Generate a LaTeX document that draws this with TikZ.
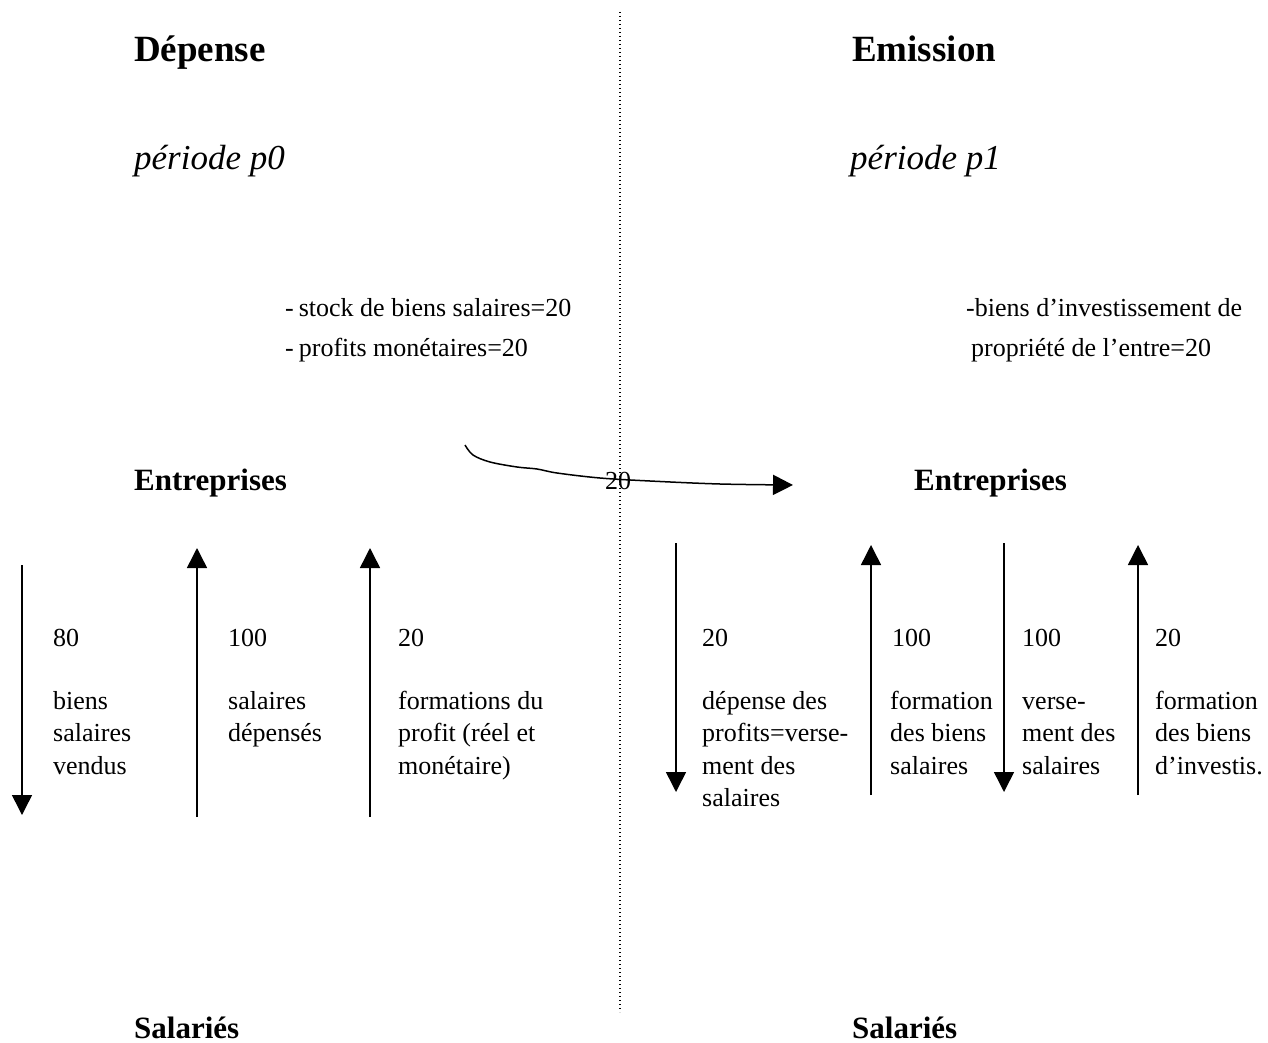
\documentclass[tikz,border=0pt]{standalone}
\usepackage{fontspec}
\setmainfont{Liberation Serif}
\usetikzlibrary{arrows.meta}
\begin{document}
\begin{tikzpicture}[x=1pt,y=-1pt,
  title/.style={anchor=base west,inner sep=0pt,font=\fontsize{37}{40}\selectfont\bfseries},
  period/.style={anchor=base west,inner sep=0pt,font=\fontsize{35}{40}\selectfont\itshape},
  actor/.style={anchor=base west,inner sep=0pt,font=\fontsize{31}{36}\selectfont\bfseries},
  body/.style={anchor=base west,inner sep=0pt,font=\fontsize{26}{40}\selectfont},
  col/.style={anchor=north west,inner sep=0pt,align=left,font=\fontsize{26}{32.5}\selectfont},
  flow/.style={line width=1.5pt,-{Triangle[length=20pt,width=20pt]}},
  sep/.style={line width=1.3pt,dash pattern=on 1.3pt off 2.7pt}
]
\useasboundingbox (0,0) rectangle (1268,1043);
\newcommand{\topstrut}{\rule{0pt}{20pt}}
% separator
\coordinate (septop) at (620,12);
\coordinate (sepbot) at (620,1012);
\draw[sep] (septop) -- (sepbot);

% titles
\node[title] (dep) at (134,62) {Dépense};
\node[title] (emi) at (852,62) {Emission};
\node[period] (p0) at (134,170) {période p0};
\node[period] (p1) at (850,170) {période p1};

\node[body] (t1) at (285,316) {-\kern5pt stock de biens salaires=20};
\node[body] (t2) at (285,356) {-\kern5pt profits monétaires=20};
\node[body] (t3) at (966,316) {-biens d’investissement de};
\node[body] (t4) at (971,356) {propriété de l’entre=20};

\node[actor] (entL) at (134,490) {Entreprises};
\node[actor] (entR) at (914,490) {Entreprises};
\node[actor] (salL) at (134,1038) {Salariés};
\node[actor] (salR) at (852,1038) {Salariés};

% curved arrow
\coordinate (cs) at (465,445);
\coordinate (ce) at (793,485);
\draw[flow] plot[smooth,tension=0.55] coordinates {(cs) (473,455) (490,462) (517,467) (537,469) (557,473) (600,478) (650,481) (720,484) (ce)};
\node[inner sep=0pt,font=\fontsize{26}{30}\selectfont] (c20) at (618,481) {20};

% left vertical arrows
\coordinate (a1t) at (22,565);  \coordinate (a1b) at (22,815);
\coordinate (a2t) at (197,548); \coordinate (a2b) at (197,817);
\coordinate (a3t) at (370,548); \coordinate (a3b) at (370,817);
\draw[flow] (a1t) -- (a1b);
\draw[flow] (a2b) -- (a2t);
\draw[flow] (a3b) -- (a3t);

\node[body] (n1) at (53,646) {80};
\node[body] (n2) at (228,646) {100};
\node[body] (n3) at (398,646) {20};
\node[col] (l1) at (53,689) {\topstrut biens\\salaires\\vendus};
\node[col] (l2) at (228,689) {\topstrut salaires\\dépensés};
\node[col] (l3) at (398,689) {\topstrut formations du\\profit (réel et\\monétaire)};

% right vertical arrows
\coordinate (b1t) at (676,543);  \coordinate (b1b) at (676,792);
\coordinate (b2t) at (871,545);  \coordinate (b2b) at (871,795);
\coordinate (b3t) at (1004,543); \coordinate (b3b) at (1004,792);
\coordinate (b4t) at (1138,545); \coordinate (b4b) at (1138,795);
\draw[flow] (b1t) -- (b1b);
\draw[flow] (b2b) -- (b2t);
\draw[flow] (b3t) -- (b3b);
\draw[flow] (b4b) -- (b4t);

\node[body] (m1) at (702,646) {20};
\node[body] (m2) at (892,646) {100};
\node[body] (m3) at (1022,646) {100};
\node[body] (m4) at (1155,646) {20};
\node[col] (r1) at (702,689) {\topstrut dépense des\\profits=verse-\\ment des\\salaires};
\node[col] (r2) at (890,689) {\topstrut formation\\des biens\\salaires};
\node[col] (r3) at (1022,689) {\topstrut verse-\\ment des\\salaires};
\node[col] (r4) at (1155,689) {\topstrut formation\\des biens\\d’investis.};
\end{tikzpicture}
\end{document}
